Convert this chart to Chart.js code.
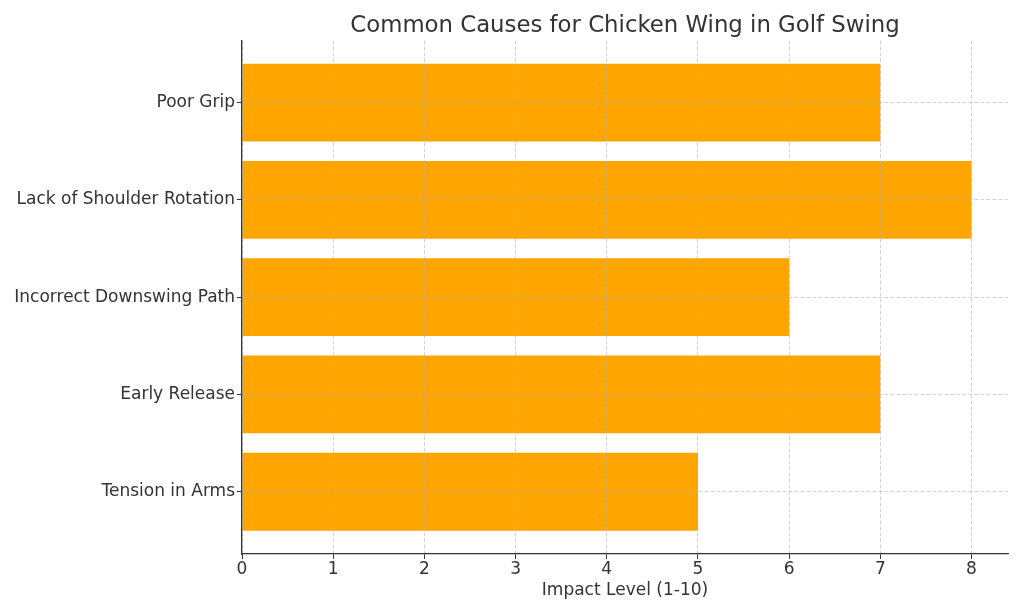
<!DOCTYPE html>
<html>
<head>
<meta charset="utf-8">
<script src="https://cdn.jsdelivr.net/npm/chart.js@4"></script>
<style>
  html, body { margin: 0; padding: 0; background: #fff; }
  #wrap { width: 1024px; height: 614px; position: relative; }
</style>
</head>
<body>
<div id="wrap"><canvas id="chartCauses"></canvas></div>
<script>
// top to bottom, as shown in the picture
const causes = [
    "Poor Grip",
    "Lack of Shoulder Rotation",
    "Incorrect Downswing Path",
    "Early Release",
    "Tension in Arms"
];
const impactLevels = [7, 8, 6, 7, 5];
const xTicks = [0, 1, 2, 3, 4, 5, 6, 7, 8];

const textColor = '#333333';
const gridColor = 'rgba(176, 176, 176, 0.7)';

Chart.defaults.font.family = "'DejaVu Sans', sans-serif";

const ctx = document.getElementById("chartCauses").getContext('2d');

// grid lines sit on top of the bars, like the picture
const gridOpts = {
    z: 1,
    offset: false,
    color: gridColor,
    lineWidth: 0.8,
    tickColor: textColor,
    tickLength: 5,
    tickWidth: 1
};

new Chart(ctx, {
    type: "bar",
    data: {
        datasets: [{
            label: "Impact Level",
            data: impactLevels.map((v, i) => ({ x: v, y: i })),
            backgroundColor: '#FFA500',
            borderWidth: 0,
            barPercentage: 0.8,
            categoryPercentage: 1.0
        }]
    },
    options: {
        indexAxis: 'y',
        responsive: true,
        maintainAspectRatio: false,
        animation: false,
        layout: { padding: { left: 0, right: 16, top: 0, bottom: 0 } },
        scales: {
            x: {
                type: 'linear',
                min: 0,
                max: 8.4,
                offset: false,
                afterBuildTicks: (scale) => { scale.ticks = xTicks.map(v => ({ value: v })); },
                afterFit: (scale) => { scale.height = 60; },
                ticks: { color: textColor, font: { size: 17 }, padding: 0 },
                grid: gridOpts,
                border: { display: true, z: 2, color: textColor, width: 1.3, dash: [4, 2] },
                title: {
                    display: true,
                    text: "Impact Level (1-10)",
                    color: textColor,
                    font: { size: 17 },
                    padding: { top: 0, bottom: 13 }
                }
            },
            y: {
                type: 'linear',
                reverse: true,
                min: -0.64,
                max: 4.64,
                offset: false,
                afterBuildTicks: (scale) => { scale.ticks = causes.map((c, i) => ({ value: i })); },
                afterFit: (scale) => { scale.width = 242; },
                ticks: {
                    color: textColor,
                    font: { size: 17 },
                    padding: 2,
                    callback: (value) => causes[value]
                },
                grid: gridOpts,
                border: { display: true, z: 2, color: textColor, width: 1.3, dash: [4, 2] }
            }
        },
        plugins: {
            legend: { display: false },
            tooltip: { enabled: false },
            title: {
                display: true,
                text: "Common Causes for Chicken Wing in Golf Swing",
                color: textColor,
                fullSize: false,
                font: { size: 22.8, weight: 'normal' },
                padding: { top: 12, bottom: 1 }
            }
        }
    }
});
</script>
</body>
</html>
